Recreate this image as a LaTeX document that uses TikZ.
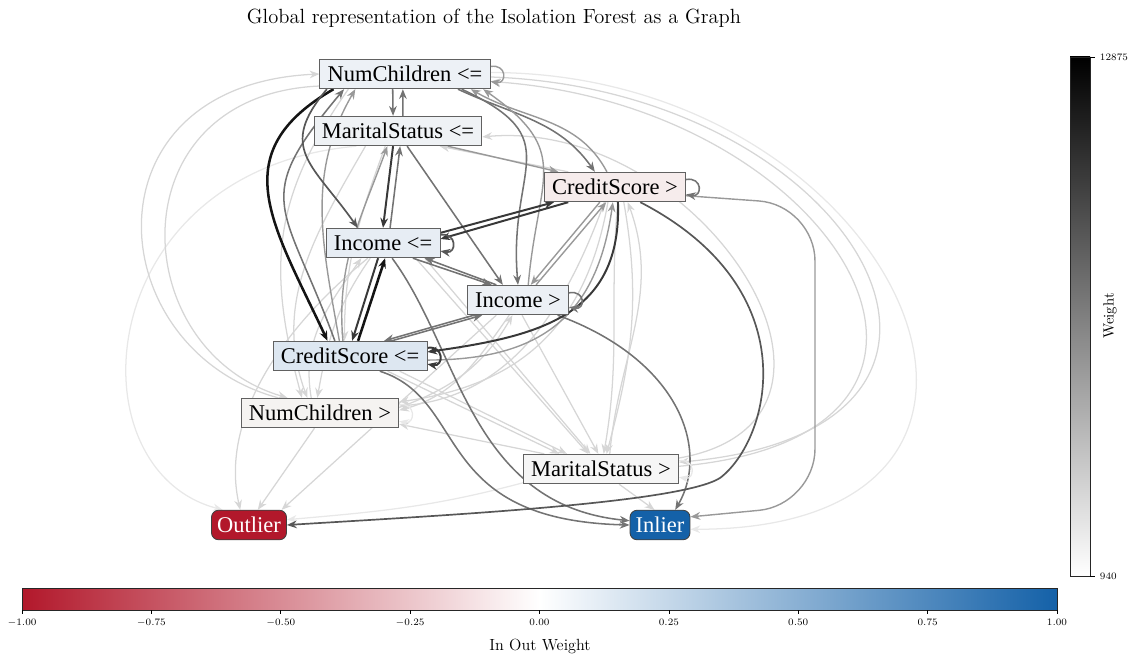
\documentclass[tikz,border=0pt]{standalone}
\usepackage{fontspec}
\newfontfamily\nodefont{Liberation Serif}
\usetikzlibrary{arrows.meta}

\definecolor{outred}{HTML}{B2182B}
\definecolor{inblue}{HTML}{1461A8}
\definecolor{fNCa}{HTML}{EDF1F6}
\definecolor{fMSa}{HTML}{EFF2F5}
\definecolor{fCSb}{HTML}{F6ECEC}
\definecolor{fINa}{HTML}{E7EDF4}
\definecolor{fINb}{HTML}{ECF0F5}
\definecolor{fCSa}{HTML}{DDE7F1}
\definecolor{fNCb}{HTML}{F5F3F1}
\definecolor{fMSb}{HTML}{F6F6F6}

\pgfdeclarelayer{edges}
\pgfsetlayers{edges,main}

\tikzset{
  feat/.style={draw=black!62,line width=0.6pt,inner xsep=5.5pt,inner ysep=0pt,
    minimum height=21pt,font=\nodefont\fontsize{16}{18}\selectfont},
  leaf/.style={feat,inner xsep=4pt,draw=black!75,rounded corners=5pt,text=white},
  wtop/.style={->,black!92,line width=1.8pt},
  whi/.style={->,black!78,line width=1.4pt},
  wdark/.style={->,black!66,line width=1.2pt},
  wmid/.style={->,black!55,line width=1.1pt},
  wlow/.style={->,black!40,line width=1pt},
  wpale/.style={->,black!16,line width=0.9pt},
  wfaint/.style={->,black!9,line width=0.9pt},
  tick/.style={font=\fontsize{7}{8}\selectfont}
}

\begin{document}
\begin{tikzpicture}[x=0.025cm,y=0.025cm,>={Stealth[length=7pt,width=5.5pt]}]
  \useasboundingbox (0,0) rectangle (1128,-657);
  \node at (494,-18) {\fontsize{14.6}{17}\selectfont Global representation of the Isolation Forest as a Graph};

  % split nodes
  \node[feat,fill=fNCa] (nc1) at (405,-74) {NumChildren <=};
  \node[feat,fill=fMSa] (ms1) at (398,-131) {MaritalStatus <=};
  \node[feat,fill=fCSb] (cs2) at (615,-187) {CreditScore >};
  \node[feat,fill=fINa] (in1) at (383,-243) {Income <=};
  \node[feat,fill=fINb] (in2) at (518,-300) {Income >};
  \node[feat,fill=fCSa] (cs1) at (350,-356) {CreditScore <=};
  \node[feat,fill=fNCb] (nc2) at (320,-413) {NumChildren >};
  \node[feat,fill=fMSb] (ms2) at (601,-469) {MaritalStatus >};
  % leaves
  \node[leaf,fill=outred] (out) at (249,-525) {Outlier};
  \node[leaf,fill=inblue] (inl) at (660,-525) {Inlier};

  \begin{pgfonlayer}{edges}
  % faint and pale edges
  \draw[wfaint] (ms1.200) .. controls (90,-170) and (70,-470) .. (out.150);
  \draw[wfaint] (nc1.1) to[out=0,in=0,looseness=2.1] (inl.-8);
  \draw[wfaint] (ms2.190) to[out=195,in=5] (out.8);
  \draw[wpale] (nc2.160) .. controls (100,-350) and (80,-85) .. (nc1.west);
  \draw[wpale] (nc1.188) .. controls (115,-95) and (125,-350) .. (nc2.155);
  \draw[wpale] (ms2.8) to[out=10,in=5,looseness=1.5] (ms1.-4);
  \draw[wpale] (nc1.-2) to[out=-2,in=5,looseness=2.2] (ms2.5);
  \draw[wpale] (ms2.2) to[out=5,in=-4,looseness=2.1] (nc1.-5);
  \draw[wpale] (cs1.338) -- (ms2.160);
  \draw[wpale] (cs1.343) -- (ms2.156);
  \draw[wpale] (in1.335) -- (ms2.130);
  \draw[wpale] (in1.340) -- (ms2.125);
  \draw[wpale] (in2.285) -- (ms2.100);
  \draw[wpale] (cs2.280) to[out=-95,in=80] (ms2.80);
  \draw[wpale] (cs2.300) to[out=-80,in=75] (ms2.70);
  \draw[wpale] (ms2.60) to[out=85,in=-70] (cs2.310);
  \draw[wpale] (ms2.-40) -- (inl.110);
  \draw[wpale] (ms2.165) -- (nc2.-8);
  \draw[wpale] (cs2.235) to[out=-110,in=5] (nc2.5);
  \draw[wpale] (cs2.245) to[out=-100,in=8,looseness=1.1] (nc2.8);
  \draw[wpale] (nc2.4) to[out=20,in=-120] (in2.250);
  \draw[wpale] (in2.240) to[out=-125,in=15] (nc2.2);
  \draw[wpale] (nc2.250) -- (out.60);
  \draw[wpale] (in2.215) -- (out.25);
  \draw[wpale] (in1.225) .. controls (280,-330) and (220,-420) .. (out.120);
  \draw[wpale] (ms1.205) to[out=240,in=110] (nc2.130);
  \draw[wpale] (nc1.195) to[out=235,in=105,looseness=1.1] (nc2.140);
  \draw[wpale] (nc2.120) to[out=100,in=235] (in1.215);
  \draw[wpale] (in1.230) to[out=235,in=80] (nc2.100);
  \draw[wpale] (cs2.162) -- (ms1.340);
  \draw[wpale] (ms1.230) to[out=250,in=90] (cs1.110);

  % grey edges
  \draw[wlow] (ms1.343) -- (cs2.165);
  \draw[wmid] (nc1.231) -- (ms1.108);
  \draw[wmid] (ms1.72) -- (nc1.262);
  \draw[wmid] (in1.65) -- (ms1.278);
  \draw[wmid] (cs1.135) to[out=110,in=230,looseness=1.5] (nc1.194);
  \draw[wlow] (cs1.125) to[out=100,in=240] (nc1.197);
  \draw[wlow] (cs1.115) to[out=95,in=250] (ms1.235);
  \draw[wmid] (in2.199) -- (cs1.24);
  \draw[wmid] (cs1.20) -- (in2.203);
  \draw[wmid] (in1.333) -- (in2.150);
  \draw[wmid] (in2.145) -- (in1.340);
  \draw[wmid] (ms1.301) -- (in2.135);
  \draw[wmid] (nc1.344) to[out=-25,in=125] (cs2.143);
  \draw[wlow] (cs2.118) to[out=118,in=-30] (nc1.347);
  \draw[wmid] (nc1.345) to[out=-25,in=95,looseness=1.5] (in2.north);
  \draw[wlow] (in2.56) to[out=85,in=-35,looseness=1.4] (nc1.349);
  \draw[wlow] (cs2.225) -- (in2.50);
  \draw[wlow] (in2.40) -- (cs2.240);
  \draw[wlow] (cs1.-3) to[out=0,in=262,looseness=1.2] (cs2.262);
  \draw[wmid] (cs1.333) .. controls (470,-400) and (430,-520) .. (inl.west);
  \draw[wmid] (in1.301) .. controls (460,-350) and (470,-505) .. (inl.172);
  \draw[wmid] (in2.339) .. controls (680,-360) and (710,-450) .. (inl.45);
  \draw[wlow,rounded corners=40pt] (cs2.-7) -- (815,-205) -- (815,-505) -- (inl.15);
  \draw[wdark] (cs2.329) .. controls (810,-290) and (770,-440) .. (720,-478)
    .. controls (680,-503) and (450,-515) .. (out.east);

  % dark edges
  \draw[wtop] (nc1.192) to[out=210,in=115,looseness=1.3] (cs1.146);
  \draw[wtop] (cs1.62) -- (in1.278);
  \draw[whi] (in1.252) -- (cs1.82);
  \draw[whi] (ms1.252) -- (in1.north);
  \draw[wdark] (nc1.191) to[out=230,in=125,looseness=1.4] (in1.149);
  \draw[whi] (in1.10) -- (cs2.194);
  \draw[whi] (cs2.198) -- (in1.4);
  \draw[whi] (cs2.281) to[out=272,in=8,looseness=1.2] (cs1.3);

  % self loops
  \draw[wlow] (nc1.5) to[out=10,in=-10,distance=12pt] (nc1.-5);
  \draw[wmid] (cs2.6) to[out=10,in=-10,distance=12pt] (cs2.-6);
  \draw[wdark] (in1.8) to[out=10,in=-10,distance=12pt] (in1.-8);
  \draw[wmid] (in2.8) to[out=10,in=-10,distance=12pt] (in2.-8);
  \draw[whi] (cs1.6) to[out=10,in=-10,distance=12pt] (cs1.-6);
  \draw[wfaint] (ms2.6) to[out=10,in=-10,distance=12pt] (ms2.-6);
  \draw[wfaint] (nc2.6) to[out=10,in=-10,distance=12pt] (nc2.-6);
  \end{pgfonlayer}

  % weight colour bar
  \shade[bottom color=white,top color=black] (1070,-576) rectangle (1090,-57);
  \draw[black!85,line width=0.5pt] (1070,-576) rectangle (1090,-57);
  \draw (1090,-57) -- (1095,-57) node[tick,right] {12875};
  \draw (1090,-576) -- (1095,-576) node[tick,right] {940};
  \node[rotate=90,font=\fontsize{10.5}{12}\selectfont] (wlab) at (1110,-316) {Weight};

  % in out colour bar
  \shade[left color=outred,right color=white] (22,-588) rectangle (539.5,-610);
  \shade[left color=white,right color=inblue] (539.5,-588) rectangle (1057,-610);
  \draw[black!85,line width=0.5pt] (22,-588) rectangle (1057,-610);
  \foreach \v [count=\i from 0] in {-1.00,-0.75,-0.50,-0.25,0.00,0.25,0.50,0.75,1.00}
    \draw (22+\i*129.375,-610) -- ++(0,-4) node[tick,below] {$\v$};
  \node[font=\fontsize{11.5}{13}\selectfont] (iolab) at (540,-646) {In Out Weight};
\end{tikzpicture}
\end{document}
